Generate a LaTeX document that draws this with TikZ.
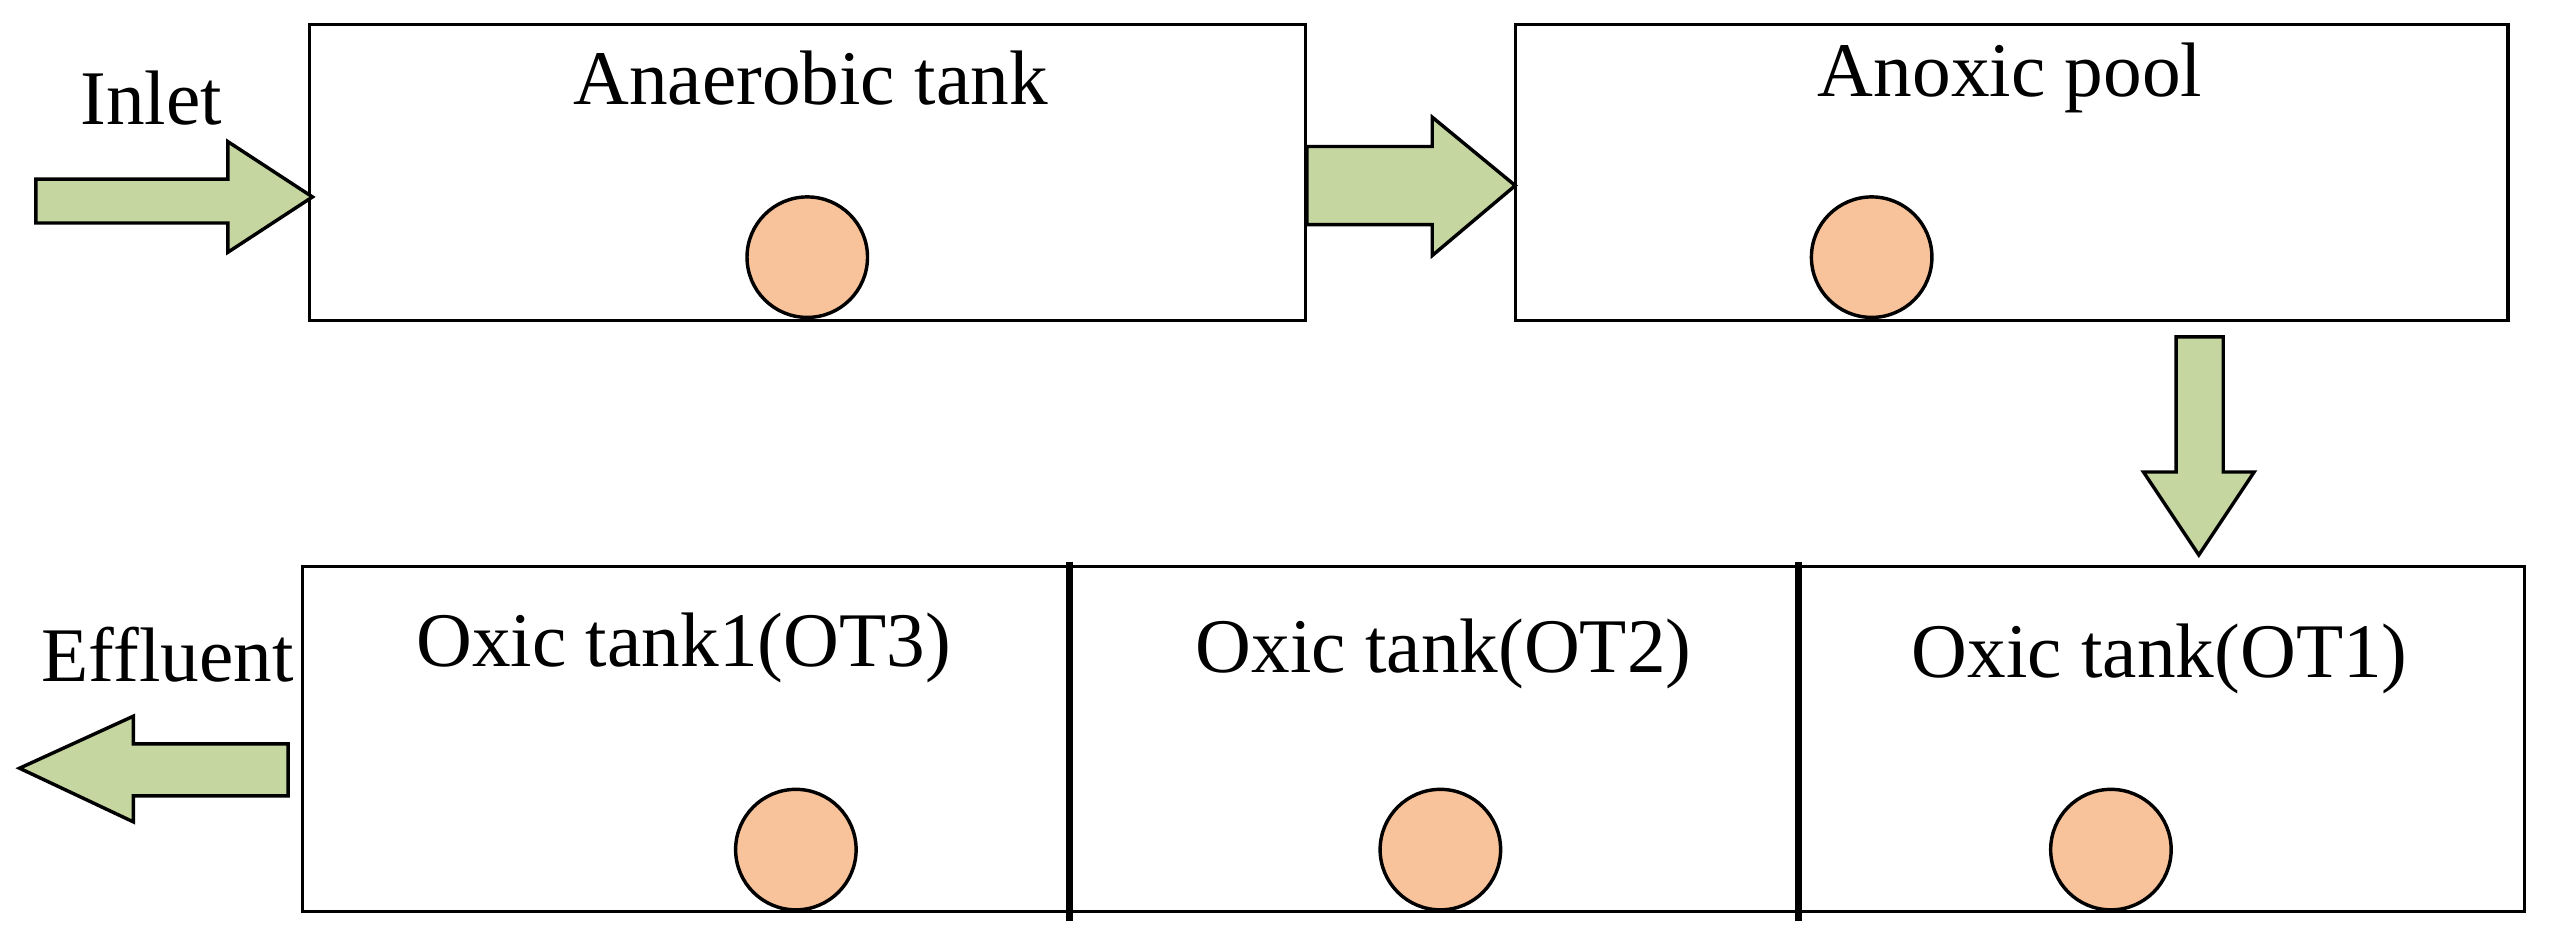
\documentclass[tikz,border=0pt]{standalone}
\usepackage{fontspec}
\setmainfont{Liberation Serif}
\definecolor{arrg}{HTML}{C5D6A0}
\definecolor{ball}{HTML}{F8C39A}
\begin{document}
\begin{tikzpicture}[x=0.01cm,y=-0.01cm,
  tank/.style={draw,line width=0.6pt},
  lbl/.style={font=\fontsize{13.5}{16}\selectfont,inner sep=0pt},
  blk/.style={draw,fill=arrg,line width=0.6pt,line join=miter},
  aer/.style={draw,fill=ball,line width=0.6pt,circle,minimum size=74\pgflinewidth,inner sep=0pt}]
\useasboundingbox (0,0) rectangle (1568,581);
% tanks
\draw[tank] (190,15) rectangle (802,197);
\draw[tank] (931,15) rectangle (1541,197);
\draw[tank] (186,348) rectangle (1551,560);
\draw[line width=1.3pt] (657,345) -- (657,566);
\draw[line width=1.3pt] (1105,345) -- (1105,566);
% labels
\node[lbl] (t1) at (498,48) {Anaerobic tank};
\node[lbl] (t2) at (1235,48) {Anoxic pool};
\node[lbl] (t3) at (420,398) {Oxic tank1(OT3)};
\node[lbl] (t4) at (887,402) {Oxic tank(OT2)};
\node[lbl] (t5) at (1327,405) {Oxic tank(OT1)};
\node[lbl] (in) at (93,60) {Inlet};
\node[lbl] (ef) at (103,402) {Effluent};
% aerators
\foreach \n/\x/\y in {a1/496/158,a2/1150/158,a3/489/522,a4/885/522,a5/1297/522}
  \draw[fill=ball,line width=0.6pt] (\x,\y) circle [radius=0.37cm];
% block arrows
\draw[blk] (22,110) -- (140,110) -- (140,87) -- (192,121) -- (140,155) -- (140,137) -- (22,137) -- cycle;
\draw[blk] (803,90) -- (880,90) -- (880,72) -- (931,114) -- (880,157) -- (880,138) -- (803,138) -- cycle;
\draw[blk] (1337,207) -- (1366,207) -- (1366,290) -- (1385,290) -- (1351,341) -- (1317,290) -- (1337,290) -- cycle;
\draw[blk] (177,457) -- (82,457) -- (82,440) -- (12,472) -- (82,505) -- (82,489) -- (177,489) -- cycle;
\end{tikzpicture}
\end{document}
